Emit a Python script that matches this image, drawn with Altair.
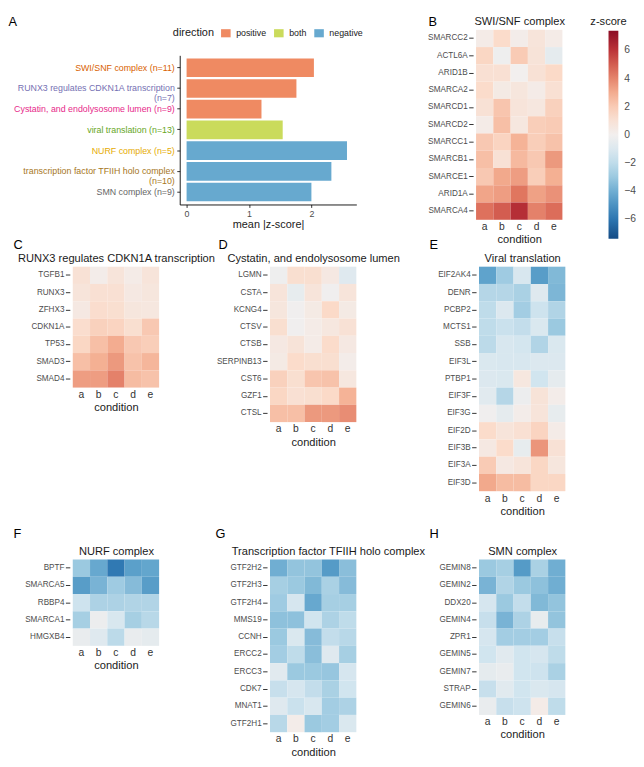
import altair as alt
import pandas as pd

FONT = "Liberation Sans"
CELL = 17.6

conditions = ["a", "b", "c", "d", "e"]

# ---------------- Panel A ----------------
pathways = [
    "SWI/SNF complex (n=11)",
    "RUNX3 regulates CDKN1A transcription|(n=7)",
    "Cystatin, and endolysosome lumen (n=9)",
    "viral translation (n=13)",
    "NURF complex (n=5)",
    "transcription factor TFIIH holo complex|(n=10)",
    "SMN complex (n=9)",
]
mean_abs_z = [2.04, 1.76, 1.20, 1.54, 2.57, 2.32, 2.00]
directions = ["positive", "positive", "positive", "both", "negative", "negative", "negative"]
pathway_keys = ["SWI/SNF", "RUNX3", "Cystatin", "viral", "NURF", "TFIIH", "SMN"]
pathway_colors = ["#D95F02", "#7570B3", "#E7298A", "#66A61E", "#E6AB02", "#A6761D", "#666666"]
direction_levels = ["positive", "both", "negative"]
direction_colors = ["#EF8A62", "#CADB5C", "#67A9CF"]

# ---------------- Heatmap panels ----------------
swisnf_genes = ["SMARCC2", "ACTL6A", "ARID1B", "SMARCA2", "SMARCD1", "SMARCD2",
                "SMARCC1", "SMARCB1", "SMARCE1", "ARID1A", "SMARCA4"]
swisnf_z = [
    [0.3, 1.4, 0.2, 0.8, 0.3],
    [1.6, -0.2, 2.0, 0.9, -0.6],
    [1.1, 1.1, 0.0, 1.0, 1.5],
    [1.4, 0.4, 0.7, 0.3, 1.1],
    [1.0, 2.2, 0.8, 0.6, 1.8],
    [0.3, 2.4, 0.6, 1.9, 2.0],
    [2.1, 1.7, 2.8, 1.9, 2.3],
    [2.4, 1.0, 2.6, 2.1, 3.5],
    [2.1, 3.1, 3.4, 1.9, 2.9],
    [3.2, 3.4, 4.4, 3.3, 3.7],
    [4.5, 5.0, 6.2, 4.1, 4.6],
]

runx3_genes = ["TGFB1", "RUNX3", "ZFHX3", "CDKN1A", "TP53", "SMAD3", "SMAD4"]
runx3_z = [
    [1.0, 0.2, 0.8, 0.3, 0.8],
    [0.8, 1.1, 1.1, 0.5, 0.7],
    [0.5, 1.3, 1.2, 0.7, 0.6],
    [1.3, 1.8, 1.7, 1.2, 2.1],
    [1.6, 2.4, 3.0, 2.1, 1.9],
    [2.4, 2.9, 3.5, 2.3, 2.7],
    [3.4, 3.4, 4.1, 2.5, 2.3],
]

cystatin_genes = ["LGMN", "CSTA", "KCNG4", "CTSV", "CTSB", "SERPINB13", "CST6", "GZF1", "CTSL"]
cystatin_z = [
    [-0.2, 1.2, 1.2, 0.5, -0.9],
    [0.8, -0.5, 0.8, -0.1, 0.8],
    [0.7, -0.1, 0.4, 1.5, 0.4],
    [1.2, -0.1, 0.3, 0.6, 1.0],
    [0.5, 0.9, 0.3, 1.4, 0.5],
    [0.4, 1.4, 1.2, 1.2, 0.2],
    [1.8, 1.2, 2.2, 2.3, 0.6],
    [1.6, 1.1, 1.2, 1.5, 2.8],
    [2.4, 2.4, 3.5, 3.5, 3.8],
]

viral_genes = ["EIF2AK4", "DENR", "PCBP2", "MCTS1", "SSB", "EIF3L", "PTBP1",
               "EIF3F", "EIF3G", "EIF2D", "EIF3B", "EIF3A", "EIF3D"]
viral_z = [
    [-4.4, -2.9, -1.2, -4.6, -3.6],
    [-2.3, -2.3, -2.6, -0.9, -3.7],
    [-2.0, -1.0, -2.8, -1.6, -2.4],
    [-2.0, -1.7, -1.9, -1.1, -3.0],
    [-2.1, -1.2, -1.4, -2.4, -1.1],
    [-1.1, -1.2, -1.2, -1.0, -1.0],
    [-1.0, -1.1, 0.6, -1.5, -0.6],
    [-0.8, -2.3, -0.3, 0.9, 0.2],
    [-0.1, -0.6, 0.2, 0.8, -0.5],
    [1.4, 0.8, 1.1, 1.7, 0.3],
    [0.5, 1.4, -0.5, 3.6, 1.0],
    [2.0, 0.5, 0.8, 1.6, 0.7],
    [3.1, 2.5, 2.5, 1.6, 1.6],
]

nurf_genes = ["BPTF", "SMARCA5", "RBBP4", "SMARCA1", "HMGXB4"]
nurf_z = [
    [-3.0, -4.2, -5.9, -4.5, -4.3],
    [-4.6, -3.8, -2.9, -3.5, -4.6],
    [-1.6, -2.5, -2.5, -2.4, -2.4],
    [-2.7, -0.3, -1.2, -2.7, -2.2],
    [-0.4, -0.9, -2.1, -0.4, -0.6],
]

tfiih_genes = ["GTF2H2", "GTF2H3", "GTF2H4", "MMS19", "CCNH", "ERCC2", "ERCC3", "CDK7", "MNAT1", "GTF2H1"]
tfiih_z = [
    [-4.0, -3.2, -3.2, -4.7, -3.4],
    [-2.7, -3.0, -3.6, -2.6, -3.5],
    [-2.9, -1.3, -4.2, -2.7, -2.7],
    [-3.3, -3.3, -1.5, -2.5, -2.0],
    [-3.0, -1.1, -3.5, -1.9, -2.2],
    [-2.8, -2.0, -3.4, -0.9, -2.7],
    [-0.8, -3.0, -3.0, -3.1, -1.3],
    [-1.8, -1.3, -1.9, -2.6, -1.5],
    [-0.9, -1.7, -1.2, -2.8, -2.5],
    [-2.2, 0.2, -3.0, -2.8, -1.1],
]

smn_genes = ["GEMIN8", "GEMIN2", "DDX20", "GEMIN4", "ZPR1", "GEMIN5", "GEMIN7", "STRAP", "GEMIN6"]
smn_z = [
    [-3.0, -2.7, -4.7, -2.6, -4.0],
    [-3.8, -2.4, -3.0, -3.3, -4.0],
    [-1.3, -3.0, -1.9, -3.6, -3.2],
    [-1.8, -3.8, -2.5, -0.5, -3.2],
    [-1.3, -2.8, -2.8, -2.8, -1.8],
    [-1.5, -0.8, -1.5, -1.3, -2.0],
    [-0.6, -0.4, -1.5, -1.6, -2.6],
    [-1.8, -0.8, -1.5, -1.1, -1.3],
    [-0.4, -1.8, -1.6, 0.3, -2.0],
]

z_scale = alt.Scale(domain=[-7.4, 7.4], scheme="redblue", reverse=True)
band = alt.Scale(type="band", paddingInner=0, paddingOuter=0)

# ---------------- builders ----------------
def heatmap(title, genes, z, letter, letter_x, letter_y, title_dx=0):
    rows = []
    for i, g in enumerate(genes):
        for j, c in enumerate(conditions):
            rows.append({"gene": g, "condition": c, "z": z[i][j]})
    df = pd.DataFrame(rows)
    cells = alt.Chart(df).mark_rect().encode(
        x=alt.X("condition:N", sort=conditions, title="condition", scale=band,
                axis=alt.Axis(labelAngle=0, ticks=False, tickSize=0, domain=False,
                              labelFontSize=10.5, labelColor="#333333", labelPadding=2,
                              titleFontSize=11.3, titleFontWeight="normal",
                              titleColor="#1A1A1A", titlePadding=2)),
        y=alt.Y("gene:N", sort=genes,
                scale=alt.Scale(paddingInner=0, paddingOuter=0),
                axis=alt.Axis(title=letter, titleAngle=0, titleX=letter_x, titleY=letter_y,
                              titleAlign="left", titleBaseline="alphabetic",
                              titleFontSize=13, titleFontWeight="normal", titleColor="#000000",
                              domain=False, ticks=True, tickSize=4.5, tickColor="#333333",
                              tickWidth=1, labelFontSize=8.3, labelColor="#4D4D4D",
                              labelPadding=1.5, offset=3)),
        color=alt.Color("z:Q", scale=z_scale, legend=None),
    )
    header = alt.Chart(pd.DataFrame({"condition": conditions})).mark_point(opacity=0).encode(
        x=alt.X("condition:N", sort=conditions, scale=band,
                axis=alt.Axis(orient="top", title=title, labels=False, ticks=False,
                              domain=False, titleX=2.5 * CELL + title_dx, titleY=-5,
                              titleAlign="center", titleBaseline="alphabetic",
                              titleFontSize=11.3, titleFontWeight="normal",
                              titleColor="#1A1A1A")),
    )
    return alt.layer(cells, header).resolve_axis(x="independent").properties(
        width=5 * CELL, height=len(genes) * CELL)


def spacer(w, h, **enc):
    return alt.Chart(pd.DataFrame({"z": [0.0]})).mark_point(opacity=0).encode(**enc).properties(
        width=w, height=h)


label_color = {
    "condition": [
        {"test": f"indexof(datum.value, '{k}') >= 0", "value": c}
        for k, c in zip(pathway_keys, pathway_colors)
    ],
    "value": "#666666",
}

dfA = pd.DataFrame({"pathway": pathways, "value": mean_abs_z, "direction": directions})
panelA = alt.Chart(dfA).mark_bar().encode(
    x=alt.X("value:Q", scale=alt.Scale(domain=[-0.11, 2.72], nice=False, zero=False),
            axis=alt.Axis(values=[0, 1, 2], title="mean |z-score|", grid=False,
                          domainColor="#000000", domainWidth=0.9, tickColor="#333333",
                          tickSize=3, labelFontSize=9, labelColor="#4D4D4D", labelPadding=2,
                          labelFlush=False, titleFontSize=11.1, titleFontWeight="normal",
                          titleColor="#1A1A1A", titlePadding=0)),
    y=alt.Y("pathway:N", sort=pathways,
            scale=alt.Scale(range=[26, 178], paddingInner=0.1, paddingOuter=0.15),
            axis=alt.Axis(title="A", titleAngle=0, titleX=-175, titleY=-4,
                          titleAlign="left", titleBaseline="alphabetic", titleFontSize=13,
                          titleFontWeight="normal", titleColor="#000000",
                          domainColor="#000000", domainWidth=0.9, tickColor="#333333",
                          tickSize=3, labelFontSize=9, labelPadding=2.5, labelLineHeight=10,
                          labelLimit=300, labelExpr="split(datum.label, '|')",
                          labelColor=label_color)),
    color=alt.Color("direction:N",
                    scale=alt.Scale(domain=direction_levels, range=direction_colors),
                    legend=alt.Legend(orient="none", legendX=-7, legendY=-1.5,
                                      direction="horizontal", titleOrient="left",
                                      title="direction", titleFontSize=11.1,
                                      titleFontWeight="normal", titleColor="#1A1A1A",
                                      titlePadding=7, labelFontSize=9, labelColor="#1A1A1A",
                                      labelOffset=5.5, columnPadding=7,
                                      symbolType="M-1,-0.85H1V0.85H-1Z", symbolSize=95,
                                      symbolStrokeWidth=0, symbolOpacity=1, padding=0)),
).properties(width=180, height=178)

z_legend = alt.Legend(title="z-score", type="gradient", orient="none", legendX=178,
                      legendY=-14.3, direction="vertical", gradientLength=212,
                      gradientThickness=10, gradientStrokeWidth=0,
                      values=[-6, -4, -2, 0, 2, 4, 6], labelFontSize=10.5,
                      labelColor="#4D4D4D", labelOffset=6, titleFontSize=11.3,
                      titleFontWeight="normal", titleColor="#1A1A1A", titleAnchor="start",
                      titleAlign="center", titlePadding=4, padding=0)

panelB = heatmap("SWI/SNF complex", swisnf_genes, swisnf_z, "B", -46, -4)
panelC = heatmap("RUNX3 regulates CDKN1A transcription", runx3_genes, runx3_z, "C", -58, -19)
panelD = heatmap("Cystatin, and endolysosome lumen", cystatin_genes, cystatin_z, "D", -50, -19)
panelE = heatmap("Viral translation", viral_genes, viral_z, "E", -48, -19)
panelF = heatmap("NURF complex", nurf_genes, nurf_z, "F", -58, -22)
panelG = heatmap("Transcription factor TFIIH holo complex", tfiih_genes, tfiih_z, "G", -53, -22,
                 title_dx=15)
panelH = heatmap("SMN complex", smn_genes, smn_z, "H", -48, -22)

row1 = alt.hconcat(
    spacer(115, 1),
    panelA,
    spacer(2, 225, color=alt.Color("z:Q", scale=z_scale, legend=z_legend)),
    panelB,
    spacing=60, bounds="flush",
).resolve_scale(color="independent")

row2 = alt.hconcat(
    spacer(16, 1), panelC, spacer(13, 279), panelD, spacer(25, 1), panelE,
    spacing=50, bounds="flush",
).resolve_scale(color="independent")

row3 = alt.hconcat(
    spacer(16, 1), panelF, spacer(13, 1), panelG, spacer(25, 1), panelH,
    spacing=50, bounds="flush",
).resolve_scale(color="independent")

chart = alt.concat(row1, row2, row3, columns=1, align="none", spacing=-12.6).resolve_scale(
    color="independent"
).properties(
    padding={"top": 0, "left": 0, "right": 0, "bottom": 0}
).configure(font=FONT).configure_view(stroke=None)

chart.save("out.html", embed_options={"renderer": "svg", "actions": False})
